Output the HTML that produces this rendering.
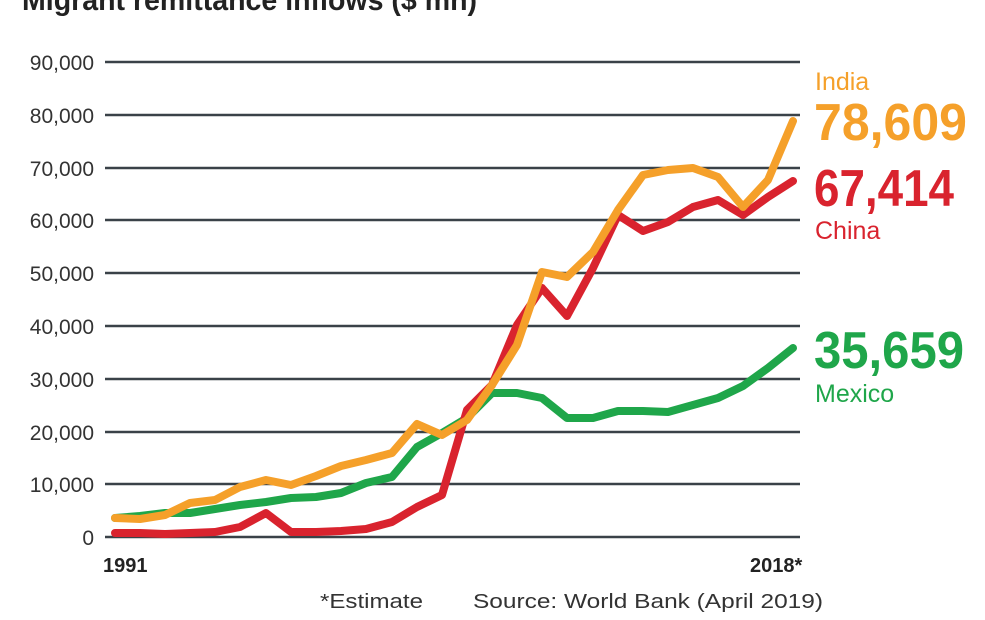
<!DOCTYPE html>
<html><head><meta charset="utf-8"><style>
body{margin:0;background:#fff;width:985px;height:615px;overflow:hidden}
svg text{font-family:"Liberation Sans",sans-serif}
</style></head><body>
<svg width="985" height="615" viewBox="0 0 985 615">
<text x="22" y="10" font-size="30" font-weight="bold" fill="#222" textLength="455" lengthAdjust="spacingAndGlyphs">Migrant remittance inflows ($ mn)</text>
<g stroke="#3a4248" stroke-width="2.5">
<line x1="105" y1="62" x2="800" y2="62"/><line x1="105" y1="115" x2="800" y2="115"/>
<line x1="105" y1="168" x2="800" y2="168"/><line x1="105" y1="220" x2="800" y2="220"/>
<line x1="105" y1="273" x2="800" y2="273"/><line x1="105" y1="326" x2="800" y2="326"/>
<line x1="105" y1="379" x2="800" y2="379"/><line x1="105" y1="432" x2="800" y2="432"/>
<line x1="105" y1="484" x2="800" y2="484"/><line x1="105" y1="537" x2="800" y2="537"/>
</g>
<g font-size="21" fill="#333" text-anchor="end">
<text x="94" y="70">90,000</text><text x="94" y="123">80,000</text><text x="94" y="176">70,000</text>
<text x="94" y="228">60,000</text><text x="94" y="281">50,000</text><text x="94" y="334">40,000</text>
<text x="94" y="387">30,000</text><text x="94" y="440">20,000</text><text x="94" y="492">10,000</text>
<text x="94" y="545">0</text>
</g>
<g fill="none" stroke-width="8" stroke-linejoin="round" stroke-linecap="round">
<polyline stroke="#1fa64a" points="115,518 140,516 165,513 190,513 215,509 240,505 266,502 291,498 316,497 341,493 366,483 392,477 417,447 442,433 467,418 492,393 517,393 542,398 567,418 593,418 618,411 643,411 668,412 693,405 718,398 743,386 768,368 793,348"/>
<polyline stroke="#d9232e" points="115,533 140,533 165,534 190,533 215,532 240,527 266,513 291,532 316,532 341,531 366,529 392,522 417,507 442,495 467,410 492,385 517,325 542,288 567,316 593,268 618,215 643,231 668,222 693,207 718,200 743,215 768,197 793,181"/>
<polyline stroke="#f5a02a" points="115,518 140,519 165,515 190,503 215,500 240,487 266,480 291,485 316,476 341,466 366,460 392,453 417,424 442,435 467,420 492,385 517,345 542,272 567,277 593,252 618,210 643,175 668,170 693,168 718,177 743,207 768,180 793,121"/>
</g>
<text x="815" y="90" font-size="25" fill="#f5a02a">India</text>
<text x="814" y="140" font-size="52" font-weight="bold" fill="#f5a02a" textLength="153" lengthAdjust="spacingAndGlyphs">78,609</text>
<text x="814" y="206" font-size="52" font-weight="bold" fill="#d9232e" textLength="140" lengthAdjust="spacingAndGlyphs">67,414</text>
<text x="815" y="239" font-size="25" fill="#d9232e">China</text>
<text x="814" y="368" font-size="52" font-weight="bold" fill="#1fa64a" textLength="150" lengthAdjust="spacingAndGlyphs">35,659</text>
<text x="815" y="402" font-size="25" fill="#1fa64a">Mexico</text>
<text x="103" y="572" font-size="20" font-weight="bold" fill="#222">1991</text>
<text x="750" y="572" font-size="20" font-weight="bold" fill="#222">2018*</text>
<text x="320" y="608" font-size="20" fill="#333" textLength="103" lengthAdjust="spacingAndGlyphs">*Estimate</text>
<text x="473" y="608" font-size="20" fill="#333" textLength="350" lengthAdjust="spacingAndGlyphs">Source: World Bank (April 2019)</text>
</svg>
</body></html>
